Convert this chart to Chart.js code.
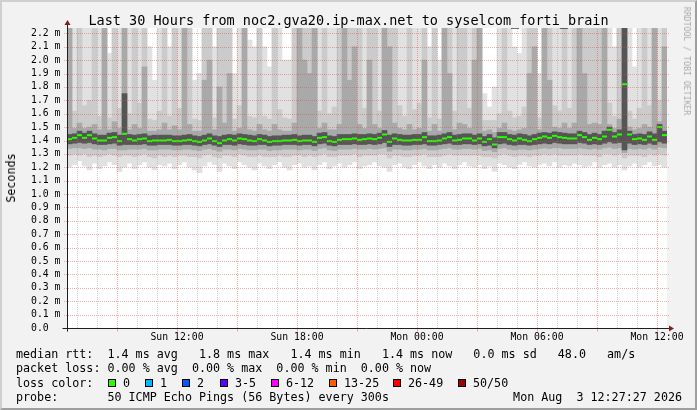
<!DOCTYPE html>
<html>
<head>
<meta charset="utf-8">
<title>syselcom_forti_brain</title>
<script src="https://cdn.jsdelivr.net/npm/chart.js@4.4.1/dist/chart.umd.min.js"></script>
<style>
  html, body { margin: 0; padding: 0; background: #f2f2f2; }
  #wrap { position: relative; width: 697px; height: 410px; overflow: hidden;
          font-family: "DejaVu Sans Mono", monospace; color: #000; }
  #frame { position: absolute; left: 0; top: 0; width: 697px; height: 410px; box-sizing: border-box;
           border-top: 2px solid #cfcfcf; border-left: 2px solid #cfcfcf;
           border-right: 2px solid #9e9e9e; border-bottom: 2px solid #9e9e9e; }
  #chart { position: absolute; left: 0; top: 0; }
  .t { position: absolute; white-space: pre; line-height: 14px; font-size: 11.7px; }
  .box { position: absolute; width: 6px; height: 6px; border: 1px solid #000; }
</style>
</head>
<body>
<div id="wrap">
  <div id="frame"></div>
  <canvas id="chart" width="697" height="410"></canvas>
  <div class="t" id="title" style="left:0;width:697px;text-align:center;top:13px;font-size:13.5px;">Last 30 Hours from noc2.gva20.ip-max.net to syselcom_forti_brain</div>
  <div class="t" style="left:11px;top:178px;transform:translate(-50%,-50%) rotate(-90deg);">Seconds</div>
  <div class="t" style="left:687px;top:61px;font-size:8.2px;color:#aaaaaa;transform:translate(-50%,-50%) rotate(90deg);">RRDTOOL / TOBI OETIKER</div>
  <div class="t" style="left:16px;top:347px;">median rtt:  1.4 ms avg   1.8 ms max   1.4 ms min   1.4 ms now   0.0 ms sd   48.0   am/s</div>
  <div class="t" style="left:16px;top:361px;">packet loss: 0.00 % avg  0.00 % max  0.00 % min  0.00 % now</div>
  <div class="t" style="left:16px;top:376px;">loss color:</div>
  <div id="losslegend"></div>
  <div class="t" style="left:16px;top:390px;">probe:       50 ICMP Echo Pings (56 Bytes) every 300s</div>
  <div class="t" style="right:15px;top:390px;">Mon Aug  3 12:27:27 2026</div>
</div>
<script>
// 15 minute slots, hours counted from Sun 06:30 (left edge of the plot)
const slotHours = 0.25;

const medianRtt = [
  1.41,1.42,1.44,1.42,1.44,1.415,1.40,1.40,1.42,1.425,1.395,1.45,1.41,1.40,1.41,1.415,1.395,1.40,1.40,1.40,
  1.405,1.395,1.395,1.40,1.405,1.395,1.39,1.40,1.415,1.395,1.38,1.40,1.41,1.40,1.415,1.41,1.40,1.395,1.41,1.40,
  1.39,1.395,1.395,1.40,1.40,1.405,1.395,1.40,1.40,1.39,1.42,1.425,1.395,1.39,1.405,1.41,1.41,1.415,1.405,1.41,
  1.415,1.41,1.42,1.445,1.39,1.415,1.405,1.40,1.40,1.405,1.405,1.425,1.395,1.395,1.40,1.415,1.425,1.40,1.405,1.415,
  1.415,1.40,1.415,1.39,1.41,1.37,1.425,1.425,1.41,1.40,1.415,1.405,1.395,1.41,1.42,1.43,1.42,1.435,1.425,1.42,
  1.415,1.415,1.44,1.425,1.405,1.42,1.41,1.43,1.48,1.43,1.445,1.82,1.445,1.41,1.415,1.405,1.43,1.405,1.50,1.44
];
const smokeMax = [
  2.3,2.3,2.3,2.3,2.3,2.3,2.3,2.3,2.05,2.3,2.3,2.3,2.3,2.3,2.3,2.3,2.1,1.85,2.3,2.3,
  2.1,2.3,2.3,2.3,2.3,1.85,1.9,2.3,2.3,2.1,2.3,2.3,2.3,1.9,2.3,2.3,2.15,2.1,2.3,2.1,
  1.95,2.3,2.3,2.0,2.0,2.3,2.3,2.3,2.3,2.3,2.3,2.3,2.3,2.3,2.3,2.3,2.3,2.3,2.3,2.3,
  2.3,2.3,2.3,2.3,2.3,2.3,2.3,2.3,2.3,2.3,2.3,2.3,2.1,2.3,2.0,2.3,2.3,2.3,2.3,2.3,
  2.3,2.3,2.3,1.75,1.65,1.8,2.3,2.3,2.3,2.1,2.05,2.3,2.3,2.3,1.9,2.3,2.3,2.3,2.3,2.3,
  2.3,2.3,2.3,2.3,2.3,2.3,2.3,2.3,2.3,2.1,2.3,2.3,2.3,1.95,2.3,2.3,2.3,2.3,2.3,2.3
];
const smokeHigh = [
  2.3,1.62,2.3,1.66,1.70,2.3,1.58,2.3,1.57,2.3,1.64,2.3,1.60,2.3,1.68,2.3,1.56,1.55,1.62,2.3,
  1.58,2.3,1.64,2.3,2.3,1.56,1.55,2.3,2.3,1.57,2.3,2.3,2.3,1.56,1.66,2.3,1.58,1.57,2.3,1.58,
  1.56,2.3,1.63,1.57,1.56,2.3,2.3,2.3,2.3,2.3,1.62,2.3,1.60,1.65,2.3,2.3,2.3,2.3,2.3,1.64,
  2.3,2.3,1.62,2.3,2.3,2.3,1.66,1.58,2.3,1.63,1.68,2.3,1.57,2.3,1.56,2.3,2.3,1.62,2.3,2.3,
  1.64,2.3,2.3,1.55,1.55,1.55,1.60,2.3,1.62,1.57,1.58,1.65,2.3,2.3,1.57,2.3,2.3,1.66,1.62,2.3,
  1.64,2.3,2.3,2.3,2.3,2.3,2.3,2.3,1.68,1.58,2.3,2.3,1.62,1.56,1.64,2.3,1.66,2.3,1.70,2.3
];
const smokeUpper = [
  2.3,1.49,1.53,1.49,1.50,1.52,1.48,2.3,1.48,1.54,1.49,2.3,1.48,1.52,1.49,1.95,1.47,1.47,1.48,1.53,
  1.48,1.51,1.48,2.3,1.52,1.47,1.47,1.85,2.0,1.48,1.8,1.53,1.9,1.47,1.49,2.3,1.48,1.47,1.52,1.48,
  1.47,1.52,1.48,1.47,1.47,1.53,2.3,2.0,1.9,2.3,1.49,1.53,1.48,1.48,1.52,2.3,1.85,2.1,1.52,1.49,
  2.0,1.52,1.49,2.3,2.1,1.53,1.49,1.48,1.52,1.48,1.49,2.0,1.47,1.52,1.47,2.3,1.9,1.48,1.53,1.52,
  1.49,2.0,2.3,1.47,1.48,1.46,1.49,1.53,1.48,1.47,1.48,1.49,1.9,2.1,1.48,2.3,1.85,1.50,1.49,1.53,
  1.49,1.53,2.3,1.9,1.52,1.53,1.52,2.3,1.52,1.49,1.56,2.3,1.50,1.48,1.49,1.52,1.50,2.3,1.54,2.1
];
const smokeCoreTop = [
  1.445,1.45,1.47,1.455,1.47,1.45,1.44,1.44,1.455,1.46,1.44,1.75,1.445,1.44,1.445,1.45,1.435,1.44,1.44,1.44,
  1.44,1.435,1.435,1.44,1.445,1.435,1.43,1.44,1.45,1.435,1.43,1.44,1.445,1.44,1.45,1.445,1.44,1.435,1.445,1.44,
  1.43,1.435,1.435,1.44,1.44,1.445,1.435,1.44,1.44,1.43,1.455,1.46,1.435,1.43,1.445,1.445,1.445,1.45,1.445,1.445,
  1.45,1.445,1.455,1.475,1.44,1.45,1.445,1.44,1.44,1.445,1.445,1.46,1.435,1.435,1.44,1.45,1.46,1.44,1.445,1.45,
  1.45,1.44,1.45,1.43,1.445,1.42,1.46,1.46,1.445,1.44,1.45,1.445,1.435,1.445,1.455,1.46,1.455,1.465,1.46,1.455,
  1.45,1.45,1.47,1.46,1.445,1.455,1.445,1.47,1.50,1.46,1.48,2.3,1.47,1.445,1.45,1.445,1.465,1.45,1.52,1.47
];
const smokeCoreBottom = [
  1.375,1.38,1.385,1.38,1.385,1.375,1.37,1.37,1.375,1.38,1.365,1.37,1.37,1.37,1.37,1.375,1.365,1.365,1.37,1.37,
  1.37,1.365,1.365,1.37,1.37,1.365,1.36,1.37,1.375,1.365,1.355,1.37,1.37,1.365,1.375,1.37,1.365,1.365,1.37,1.37,
  1.36,1.365,1.365,1.37,1.37,1.37,1.365,1.37,1.37,1.36,1.375,1.38,1.365,1.36,1.37,1.37,1.37,1.375,1.37,1.37,
  1.375,1.37,1.375,1.385,1.355,1.37,1.37,1.365,1.365,1.37,1.37,1.375,1.365,1.365,1.37,1.375,1.38,1.37,1.37,1.375,
  1.375,1.37,1.375,1.36,1.365,1.345,1.375,1.38,1.37,1.365,1.37,1.37,1.365,1.37,1.375,1.38,1.375,1.385,1.38,1.375,
  1.375,1.375,1.385,1.38,1.37,1.375,1.37,1.38,1.39,1.38,1.385,1.33,1.38,1.37,1.375,1.37,1.38,1.37,1.39,1.38
];
const smokeLower = [
  1.34,1.345,1.345,1.34,1.345,1.335,1.335,1.33,1.34,1.34,1.33,1.33,1.335,1.335,1.335,1.34,1.33,1.33,1.335,1.335,
  1.335,1.33,1.33,1.335,1.335,1.33,1.325,1.335,1.34,1.33,1.32,1.335,1.335,1.33,1.34,1.335,1.33,1.33,1.335,1.335,
  1.325,1.33,1.33,1.335,1.335,1.335,1.33,1.335,1.335,1.325,1.34,1.345,1.33,1.325,1.335,1.335,1.335,1.34,1.335,1.335,
  1.34,1.335,1.34,1.345,1.32,1.335,1.335,1.33,1.33,1.335,1.335,1.34,1.33,1.33,1.335,1.34,1.345,1.335,1.335,1.34,
  1.34,1.335,1.34,1.325,1.33,1.315,1.34,1.345,1.335,1.33,1.335,1.335,1.33,1.335,1.34,1.345,1.34,1.345,1.345,1.34,
  1.34,1.34,1.345,1.34,1.335,1.34,1.335,1.345,1.35,1.34,1.345,1.31,1.34,1.335,1.34,1.335,1.345,1.335,1.35,1.345
];
const smokeLow = [
  1.29,1.30,1.29,1.30,1.28,1.29,1.28,1.29,1.30,1.29,1.28,1.29,1.29,1.28,1.29,1.30,1.28,1.27,1.29,1.28,
  1.29,1.28,1.29,1.29,1.28,1.28,1.27,1.29,1.30,1.28,1.27,1.29,1.29,1.28,1.30,1.29,1.28,1.28,1.29,1.28,
  1.28,1.28,1.29,1.28,1.28,1.29,1.29,1.28,1.29,1.28,1.29,1.30,1.28,1.28,1.29,1.29,1.29,1.30,1.28,1.29,
  1.29,1.29,1.30,1.30,1.27,1.29,1.29,1.28,1.28,1.29,1.29,1.30,1.28,1.28,1.28,1.29,1.30,1.29,1.29,1.29,
  1.29,1.29,1.29,1.28,1.28,1.27,1.29,1.30,1.29,1.28,1.29,1.29,1.28,1.29,1.29,1.30,1.29,1.30,1.29,1.29,
  1.29,1.29,1.30,1.29,1.29,1.29,1.28,1.30,1.30,1.29,1.30,1.27,1.29,1.29,1.29,1.28,1.30,1.29,1.30,1.29
];
const smokeMin = [
  1.20,1.22,1.25,1.21,1.18,1.23,1.19,1.21,1.24,1.22,1.17,1.20,1.23,1.19,1.22,1.24,1.20,1.18,1.22,1.21,
  1.23,1.19,1.22,1.24,1.20,1.18,1.16,1.21,1.24,1.22,1.17,1.23,1.21,1.19,1.24,1.22,1.20,1.18,1.23,1.21,
  1.19,1.22,1.24,1.20,1.18,1.22,1.23,1.20,1.21,1.18,1.22,1.24,1.19,1.21,1.23,1.20,1.22,1.24,1.19,1.21,
  1.22,1.24,1.21,1.20,1.17,1.22,1.23,1.20,1.19,1.22,1.24,1.21,1.19,1.22,1.20,1.23,1.21,1.19,1.22,1.24,
  1.21,1.20,1.22,1.19,1.21,1.17,1.23,1.22,1.20,1.19,1.22,1.24,1.21,1.20,1.22,1.23,1.21,1.24,1.20,1.22,
  1.21,1.23,1.22,1.20,1.21,1.24,1.20,1.22,1.23,1.20,1.22,1.18,1.21,1.23,1.20,1.22,1.24,1.21,1.22,1.20
];

const yTickValues = [0.0,0.1,0.2,0.3,0.4,0.5,0.6,0.7,0.8,0.9,1.0,1.1,1.2,1.3,1.4,1.5,1.6,1.7,1.8,1.9,2.0,2.1,2.2];
const yTickLabels = ['0.0  ','0.1 m','0.2 m','0.3 m','0.4 m','0.5 m','0.6 m','0.7 m','0.8 m','0.9 m','1.0 m','1.1 m',
                     '1.2 m','1.3 m','1.4 m','1.5 m','1.6 m','1.7 m','1.8 m','1.9 m','2.0 m','2.1 m','2.2 m'];
const xTickHours = [5.5, 11.5, 17.5, 23.5, 29.5];
const xTickLabels = ['Sun 12:00', 'Sun 18:00', 'Mon 00:00', 'Mon 06:00', 'Mon 12:00'];

const lossNames = ['0', '1', '2', '3-5', '6-12', '13-25', '26-49', '50/50'];
const lossColors = ['#26ff00', '#00b8ff', '#0059ff', '#5e00ff', '#ff00ff', '#ff5e00', '#ff0000', '#a10000'];

// legend boxes for the loss colours
const boxX = [108, 145, 182, 220, 271, 329, 393, 458];
const lbl = document.getElementById('losslegend');
lossNames.forEach((n, i) => {
  const b = document.createElement('div');
  b.className = 'box';
  b.style.left = boxX[i] + 'px';
  b.style.top = '379px';
  b.style.background = lossColors[i];
  lbl.appendChild(b);
  const t = document.createElement('div');
  t.className = 't';
  t.style.left = (boxX[i] + 15) + 'px';
  t.style.top = '376px';
  t.textContent = n;
  lbl.appendChild(t);
});

const gridColor = 'rgba(140,140,140,0.4)';
const mgridColor = 'rgba(225,75,75,0.45)';

function slot(i) { return (i + 0.5) * slotHours; }
function isMajorHour(h) { return Math.abs((h - 2.5) % 3) < 1e-6; }

function band(lo, hi, color) {
  return {
    type: 'bar',
    data: lo.map((v, i) => ({ x: slot(i), y: [v, hi[i]] })),
    backgroundColor: color,
    borderWidth: 0,
    grouped: false,
    barPercentage: 1,
    categoryPercentage: 1
  };
}

// one pixel on, one pixel off, like rrdtool's dotted grid
function dotsH(ctx, x1, x2, y) {
  for (let x = x1; x <= x2; x += 2) ctx.fillRect(x, y, 1, 1);
}
function dotsV(ctx, x, y1, y2) {
  for (let y = y2; y >= y1; y -= 2) ctx.fillRect(x, y, 1, 1);
}

// canvas background, dotted grid on top of the smoke, axes with arrows
const rrdFrame = {
  id: 'rrdFrame',
  beforeDraw(chart) {
    const a = chart.chartArea, ctx = chart.ctx;
    ctx.save();
    ctx.fillStyle = '#ffffff';
    ctx.fillRect(a.left, a.top, a.right - a.left, a.bottom - a.top);
    ctx.restore();
  },
  afterDatasetsDraw(chart) {
    const a = chart.chartArea, ctx = chart.ctx;
    const xs = chart.scales.x, ys = chart.scales.y;
    const left = Math.round(a.left), right = Math.round(a.right);
    const top = Math.round(a.top), bottom = Math.round(a.bottom);
    ctx.save();
    for (let h = 0.5; h < 30; h += 1) {
      const px = Math.round(xs.getPixelForValue(h));
      ctx.fillStyle = isMajorHour(h) ? mgridColor : gridColor;
      dotsV(ctx, px, top, bottom - 1);
    }
    ctx.fillStyle = mgridColor;
    yTickValues.forEach(v => {
      if (v === 0) return;
      const py = Math.round(ys.getPixelForValue(v));
      dotsH(ctx, left - 3, right + 2, py);
    });
    ctx.restore();
  },
  afterDraw(chart) {
    const a = chart.chartArea, ctx = chart.ctx;
    const xs = chart.scales.x;
    const x0 = Math.round(a.left) + 0.5, y0 = Math.round(a.bottom) + 0.5;
    ctx.save();
    ctx.lineWidth = 1;
    ctx.strokeStyle = mgridColor;
    ctx.beginPath();
    for (let h = 2.5; h < 30; h += 3) {
      const px = Math.round(xs.getPixelForValue(h)) + 0.5;
      ctx.moveTo(px, y0); ctx.lineTo(px, y0 + 3);
    }
    ctx.stroke();
    ctx.strokeStyle = '#1f1f1f';
    ctx.beginPath();
    ctx.moveTo(x0 - 5, y0); ctx.lineTo(a.right + 4, y0);
    ctx.moveTo(x0, y0 + 3); ctx.lineTo(x0, a.top - 5);
    ctx.stroke();
    ctx.fillStyle = '#7f1f1f';
    ctx.beginPath();
    ctx.moveTo(a.right + 7, y0); ctx.lineTo(a.right + 2, y0 - 3); ctx.lineTo(a.right + 2, y0 + 3);
    ctx.closePath(); ctx.fill();
    ctx.beginPath();
    ctx.moveTo(x0, a.top - 8); ctx.lineTo(x0 - 3, a.top - 3); ctx.lineTo(x0 + 3, a.top - 3);
    ctx.closePath(); ctx.fill();
    ctx.restore();
  }
};

const tickFont = { family: 'DejaVu Sans Mono', size: 9.8 };

new Chart(document.getElementById('chart'), {
  type: 'bar',
  data: {
    datasets: [
      {
        type: 'line',
        label: 'median rtt',
        data: medianRtt.map((v, i) => ({ x: slot(i), y: v })),
        showLine: false,
        pointStyle: 'line',
        pointRadius: 2.5,
        pointBorderWidth: 2,
        pointBorderColor: lossColors[0],
        pointBackgroundColor: lossColors[0]
      },
      band(smokeCoreBottom, smokeCoreTop, '#555555'),
      band(smokeLower, smokeUpper, '#a9a9a9'),
      band(smokeLow, smokeHigh, '#cbcbcb'),
      band(smokeMin, smokeMax, '#e1e1e1')
    ]
  },
  options: {
    responsive: false,
    animation: false,
    events: [],
    devicePixelRatio: 1,
    layout: { padding: { top: 28, right: 30, bottom: 62, left: 0 } },
    plugins: { legend: { display: false }, tooltip: { enabled: false }, title: { display: false } },
    scales: {
      x: {
        type: 'linear',
        min: 0,
        max: 30,
        offset: false,
        afterFit(scale) { scale.height = 20; },
        afterBuildTicks(scale) { scale.ticks = xTickHours.map(h => ({ value: h })); },
        grid: { offset: false, drawOnChartArea: false, drawTicks: true, tickLength: 3, tickColor: 'rgba(0,0,0,0)' },
        border: { display: false },
        ticks: {
          autoSkip: false,
          maxRotation: 0,
          padding: 1,
          color: '#000',
          font: tickFont,
          callback(value, index) { return xTickLabels[index]; }
        }
      },
      y: {
        type: 'linear',
        min: 0,
        max: 2.24,
        afterFit(scale) { scale.width = 67; },
        afterBuildTicks(scale) { scale.ticks = yTickValues.map(v => ({ value: v })); },
        grid: { drawOnChartArea: false, drawTicks: true, tickLength: 3, tickColor: 'rgba(0,0,0,0)' },
        border: { display: false },
        ticks: {
          autoSkip: false,
          padding: 3.5,
          color: '#000',
          font: tickFont,
          callback(value, index) { return yTickLabels[index]; }
        }
      }
    }
  },
  plugins: [rrdFrame]
});
</script>
</body>
</html>
